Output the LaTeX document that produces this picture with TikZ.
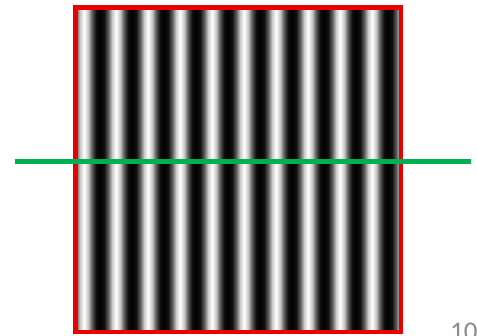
\documentclass[tikz,border=0pt]{standalone}
\usepackage{fontspec}
\newfontfamily\slidefont{Carlito}

\definecolor{framered}{RGB}{232,0,0}
\definecolor{scangreen}{RGB}{0,176,80}
\definecolor{numgray}{RGB}{140,140,140}

% one period of the grating: white - black - white
\pgfdeclarehorizontalshading{grating}{100bp}{%
  color(0bp)=(white); color(25bp)=(white);
  color(31.25bp)=(white!79!black); color(37.5bp)=(white!35!black);
  color(43.75bp)=(white!6!black); color(50bp)=(black);
  color(56.25bp)=(white!6!black); color(62.5bp)=(white!35!black);
  color(68.75bp)=(white!79!black); color(75bp)=(white);
  color(100bp)=(white)}

\begin{document}
\begin{tikzpicture}[x=1pt, y=-1pt,
  frame/.style    = {draw=framered, line width=4.5pt},
  scanline/.style = {draw=scangreen, line width=5pt},
  pagenum/.style  = {font=\slidefont\fontsize{27}{27}\selectfont, text=numgray, inner sep=0pt, anchor=base west},
]
  \useasboundingbox (0,0) rectangle (477,335);
  \begin{scope}
    \clip (77.5,9.5) rectangle (398.5,329.5);
    \foreach \k in {-1,...,9}
      \shade[shading=grating] (84+32*\k,9.5) rectangle (116+32*\k,329.5);
  \end{scope}
  \draw[frame] (75.25,7.25) rectangle (400.75,331.75);
  \coordinate (scan west) at (15,161);
  \coordinate (scan east) at (471,161);
  \draw[scanline] (scan west) -- (scan east);
  \node[pagenum] (pagenum) at (450,340) {10};
\end{tikzpicture}
\end{document}
